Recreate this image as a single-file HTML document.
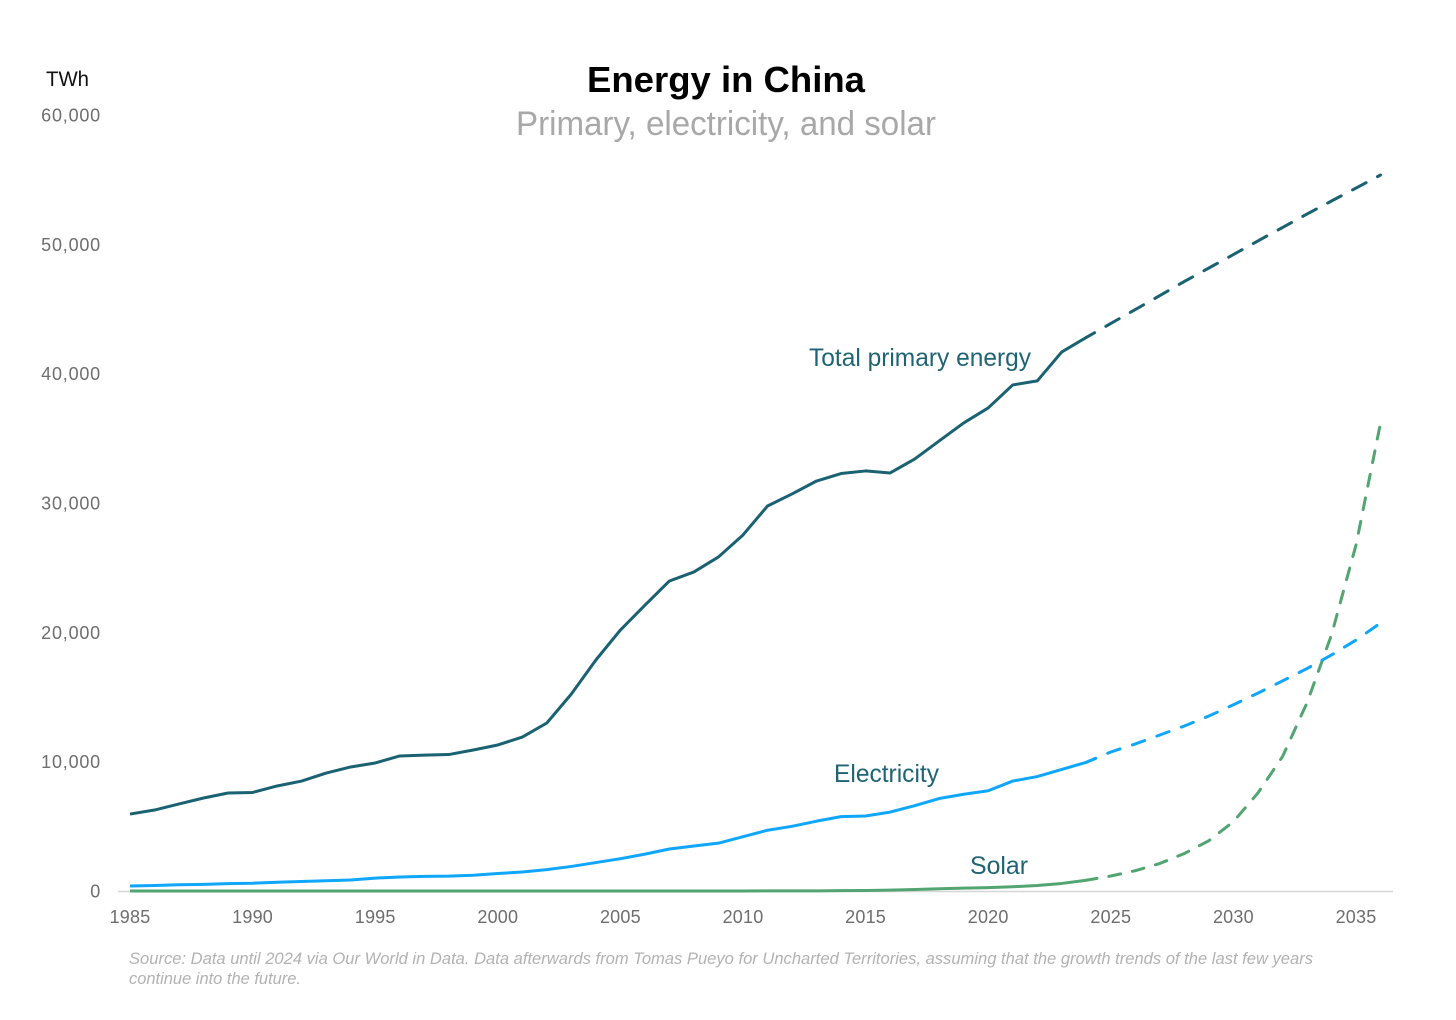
<!DOCTYPE html>
<html lang="en">
<head>
<meta charset="utf-8">
<title>Energy in China</title>
<style>
html,body{margin:0;padding:0;background:#fff;width:1456px;height:1020px;overflow:hidden}
svg{display:block}
text{font-family:"Liberation Sans",sans-serif}
.tick{font-size:18px;fill:#6e6e6e}
.ytick{letter-spacing:.8px}
.xtick{letter-spacing:.2px}
.ann{font-size:25px;fill:#1f6474}
.src{font-size:16.5px;font-style:italic;fill:#b2b2b2}
</style>
</head>
<body>
<svg id="chart" width="1456" height="1020" viewBox="0 0 1456 1020" xmlns="http://www.w3.org/2000/svg">
  <text x="726" y="92" text-anchor="middle" font-size="36" font-weight="700" fill="#000" textLength="278" lengthAdjust="spacingAndGlyphs">Energy in China</text>
  <text x="726" y="135" text-anchor="middle" font-size="34" fill="#a8a8a8" textLength="420" lengthAdjust="spacingAndGlyphs">Primary, electricity, and solar</text>
  <text x="46" y="86" font-size="21" fill="#111" textLength="43" lengthAdjust="spacingAndGlyphs">TWh</text>
  <line x1="118" y1="891.5" x2="1393" y2="891.5" stroke="#d6d6d6" stroke-width="1.5"/>
  <g id="y-ticks"></g>
  <g id="x-ticks"></g>
  <g id="series"></g>
  <text class="ann" x="809" y="366" textLength="222" lengthAdjust="spacingAndGlyphs">Total primary energy</text>
  <text class="ann" x="834" y="782" textLength="105" lengthAdjust="spacingAndGlyphs">Electricity</text>
  <text class="ann" x="970" y="874" textLength="58" lengthAdjust="spacingAndGlyphs">Solar</text>
  <text class="src" x="129" y="964" textLength="1184" lengthAdjust="spacingAndGlyphs">Source: Data until 2024 via Our World in Data. Data afterwards from Tomas Pueyo for Uncharted Territories, assuming that the growth trends of the last few years</text>
  <text class="src" x="129" y="984" textLength="172" lengthAdjust="spacingAndGlyphs">continue into the future.</text>
</svg>
<script>
const yTickValues = [0, 10000, 20000, 30000, 40000, 50000, 60000];
const xTickYears = [1985, 1990, 1995, 2000, 2005, 2010, 2015, 2020, 2025, 2030, 2035];

const startYear = 1985;
const lastHistoricalYear = 2024;

const totalPrimary = [5950, 6260, 6730, 7190, 7580, 7620, 8120, 8500, 9120, 9590, 9900, 10440, 10510, 10550, 10900, 11290, 11900, 12990, 15230, 17860, 20180, 22100, 23970, 24670, 25830, 27530, 29770, 30700, 31700, 32280, 32480, 32320, 33400, 34800, 36190, 37350, 39130, 39440, 41680, 42800, 43880, 44960, 46040, 47130, 48170, 49210, 50260, 51300, 52340, 53350, 54350, 55360];
const electricity = [390, 430, 480, 510, 570, 600, 680, 730, 790, 850, 1000, 1080, 1130, 1150, 1220, 1350, 1470, 1650, 1900, 2200, 2500, 2850, 3250, 3480, 3700, 4200, 4700, 5000, 5400, 5750, 5800, 6100, 6600, 7150, 7480, 7750, 8500, 8850, 9400, 9950, 10750, 11370, 12060, 12760, 13530, 14400, 15300, 16240, 17200, 18250, 19400, 20720];
const solar = [0, 0, 0, 0, 0, 0, 0, 0, 0, 0, 0, 0, 0, 0, 0, 0, 0, 0, 0, 0, 0, 0, 0, 1, 3, 4, 6, 7, 10, 25, 39, 66, 118, 177, 224, 261, 327, 428, 584, 834, 1160, 1570, 2130, 2900, 3890, 5360, 7580, 10380, 14540, 19800, 26750, 36190];

const NS = 'http://www.w3.org/2000/svg';

function xScale(year) {
  return 130 + (year - 1985) * (1356 - 130) / 50;
}
function yScale(value) {
  return 891 - value * (891 - 115) / 60000;
}
function fmt(v) {
  return v.toLocaleString('en-US');
}
function pathFor(values, fromYear, toYear) {
  const pts = [];
  values.forEach(function (v, i) {
    const yr = startYear + i;
    if (yr >= fromYear && yr <= toYear) {
      pts.push(xScale(yr).toFixed(2) + ',' + yScale(v).toFixed(2));
    }
  });
  return 'M' + pts.join('L');
}

const yGroup = document.getElementById('y-ticks');
yTickValues.forEach(function (v) {
  const t = document.createElementNS(NS, 'text');
  t.setAttribute('class', 'tick ytick');
  t.setAttribute('x', 101);
  t.setAttribute('y', yScale(v) + 6.5);
  t.setAttribute('text-anchor', 'end');
  
  
  t.textContent = fmt(v);
  yGroup.appendChild(t);
});

const xGroup = document.getElementById('x-ticks');
xTickYears.forEach(function (yr) {
  const t = document.createElementNS(NS, 'text');
  t.setAttribute('class', 'tick xtick');
  t.setAttribute('x', xScale(yr));
  t.setAttribute('y', 923);
  t.setAttribute('text-anchor', 'middle');
  
  
  t.textContent = String(yr);
  xGroup.appendChild(t);
});

const seriesGroup = document.getElementById('series');
function drawSeries(values, color, dashPattern, dashOffset) {
  const solid = document.createElementNS(NS, 'path');
  solid.setAttribute('d', pathFor(values, startYear, lastHistoricalYear));
  solid.setAttribute('fill', 'none');
  solid.setAttribute('stroke', color);
  solid.setAttribute('stroke-width', '3');
  solid.setAttribute('stroke-linejoin', 'round');
  
  
  seriesGroup.appendChild(solid);

  const dashed = document.createElementNS(NS, 'path');
  dashed.setAttribute('d', pathFor(values, lastHistoricalYear, 2036));
  dashed.setAttribute('fill', 'none');
  dashed.setAttribute('stroke', color);
  dashed.setAttribute('stroke-width', '3');
  dashed.setAttribute('stroke-linecap', 'round');
  dashed.setAttribute('stroke-dasharray', dashPattern);
  dashed.setAttribute('stroke-dashoffset', dashOffset);
  
  
  seriesGroup.appendChild(dashed);
}
drawSeries(solar, '#52a571', '12 12', '1.1');
drawSeries(electricity, '#0fa6fb', '13 13', '2.7');
drawSeries(totalPrimary, '#1a6172', '15.3 12.9', '5.7');
</script>
</body>
</html>
